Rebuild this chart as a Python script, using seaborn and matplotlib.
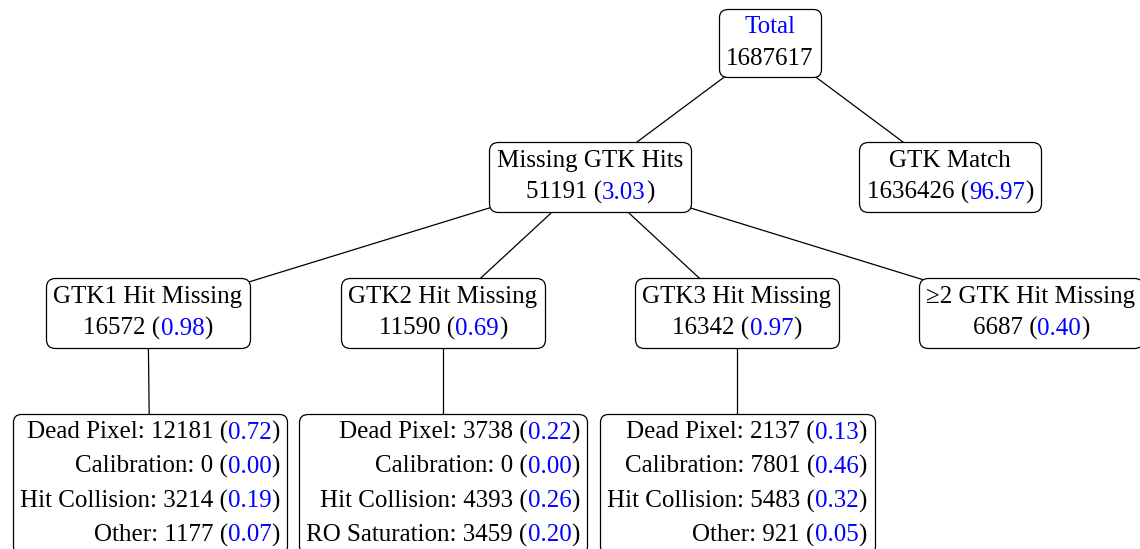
import pandas as pd
import seaborn as sns
import matplotlib
matplotlib.use("Agg")
import matplotlib.pyplot as plt
from matplotlib.offsetbox import TextArea, HPacker, VPacker, AnnotationBbox

node_names = ["Total", "Missing GTK Hits", "GTK Match", "GTK1 Hit Missing",
              "GTK2 Hit Missing", "GTK3 Hit Missing", "\u22652 GTK Hit Missing"]
node_counts = [1687617, 51191, 1636426, 16572, 11590, 16342, 6687]
node_pcts = [None, 3.03, 96.97, 0.98, 0.69, 0.97, 0.40]
node_parents = [None, 0, 0, 1, 1, 1, 1]

gtk1_causes = ["Dead Pixel", "Calibration", "Hit Collision", "Other"]
gtk1_counts = [12181, 0, 3214, 1177]
gtk1_pcts = [0.72, 0.00, 0.19, 0.07]

gtk2_causes = ["Dead Pixel", "Calibration", "Hit Collision", "RO Saturation"]
gtk2_counts = [3738, 0, 4393, 3459]
gtk2_pcts = [0.22, 0.00, 0.26, 0.20]

gtk3_causes = ["Dead Pixel", "Calibration", "Hit Collision", "Other"]
gtk3_counts = [2137, 7801, 5483, 921]
gtk3_pcts = [0.13, 0.46, 0.32, 0.05]

leaf_parents = [3, 4, 5]

# --- layout (pixel units, y down) ---
W, H = 1140, 549
node_pos = [(770, 43), (590, 177), (950, 177), (148, 313),
            (443, 313), (737, 313), (1031, 313)]
leaf_pos = [(150, 484), (443, 484), (737, 484)]

FS = 18
FONT = ["Liberation Serif", "DejaVu Serif"]
BLUE = "#0000ff"

sns.set_theme(style="white")
plt.rcParams["font.family"] = FONT

fig = plt.figure(figsize=(W / 100, H / 100), dpi=100)
ax = fig.add_axes([0, 0, 1, 1])


def txt(s, color="black"):
    return TextArea(s, textprops=dict(fontsize=FS, family=FONT, color=color))


def count_row(count, pct):
    parts = [txt(f"{count}")]
    if pct is not None:
        parts = [txt(f"{count} ("), txt(f"{pct:.2f}", BLUE), txt(")")]
    return HPacker(children=parts, sep=0, pad=0, align="baseline")


def place(box, xy):
    ab = AnnotationBbox(box, xy, xycoords="data", box_alignment=(0.5, 0.5),
                        pad=0, fontsize=FS, zorder=3,
                        bboxprops=dict(boxstyle="round,pad=0.3,rounding_size=0.35",
                                       facecolor="white", edgecolor="black",
                                       linewidth=0.9))
    ax.add_artist(ab)


# --- edges ---
edge_rows = []
for i, p in enumerate(node_parents):
    if p is None:
        continue
    for xy in (node_pos[p], node_pos[i]):
        edge_rows.append({"edge": f"n{i}", "x": xy[0], "y": xy[1]})
for k, p in enumerate(leaf_parents):
    for xy in (node_pos[p], leaf_pos[k]):
        edge_rows.append({"edge": f"l{k}", "x": xy[0], "y": xy[1]})
edges = pd.DataFrame(edge_rows)
sns.lineplot(data=edges, x="x", y="y", units="edge", estimator=None,
             color="black", linewidth=0.9, sort=False, ax=ax, zorder=1)
ax.set_xlim(0, W)
ax.set_ylim(H, 0)
ax.axis("off")

# --- nodes ---
for i, name in enumerate(node_names):
    title = txt(name, BLUE if node_pcts[i] is None else "black")
    box = VPacker(children=[title, count_row(node_counts[i], node_pcts[i])],
                  sep=7, pad=0, align="center")
    place(box, node_pos[i])

# --- leaf boxes ---
leaves = [(gtk1_causes, gtk1_counts, gtk1_pcts),
          (gtk2_causes, gtk2_counts, gtk2_pcts),
          (gtk3_causes, gtk3_counts, gtk3_pcts)]
for k, (causes, counts, pcts) in enumerate(leaves):
    rows = []
    for c, n, pc in zip(causes, counts, pcts):
        rows.append(HPacker(children=[txt(f"{c}: {n} ("), txt(f"{pc:.2f}", BLUE), txt(")")],
                            sep=0, pad=0, align="baseline"))
    place(VPacker(children=rows, sep=8, pad=0, align="right"), leaf_pos[k])

fig.savefig("out.png", dpi=100)
